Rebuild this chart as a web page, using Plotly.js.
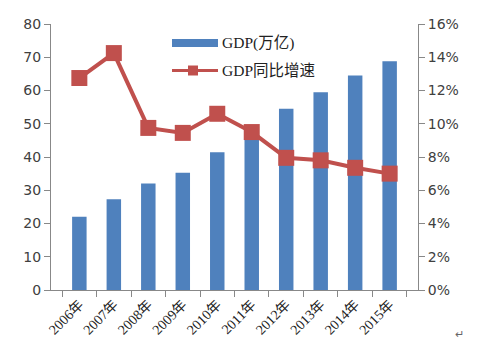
<!DOCTYPE html>
<html>
<head>
<meta charset="utf-8">
<script src="https://cdn.plot.ly/plotly-3.0.1.min.js"></script>
<style>html,body{margin:0;padding:0;background:#fff;}#chart{width:484px;height:363px;}</style>
</head>
<body>
<div id="chart"></div>
<script>
const years = ["2006年","2007年","2008年","2009年","2010年","2011年","2012年","2013年","2014年","2015年"];
const gdp = [22.0, 27.3, 32.0, 35.3, 41.4, 47.5, 54.5, 59.5, 64.5, 68.8];
const growth = [12.75, 14.25, 9.75, 9.45, 10.6, 9.5, 7.95, 7.8, 7.35, 7.0];
const leftTicks = [0,10,20,30,40,50,60,70,80];
const rightTicks = [0,2,4,6,8,10,12,14,16];
const rightLabels = rightTicks.map(v => v + "%");
const seriesNames = ["GDP(万亿)", "GDP同比增速"];

const barColor = "#4F81BD", lineColor = "#C0504D";
const traces = [
  {type:"bar", x: years, y: gdp, name:seriesNames[0], marker:{color:barColor}, yaxis:"y"},
  {type:"scatter", mode:"lines+markers", x: years, y: growth, name:seriesNames[1], yaxis:"y2",
   line:{color:lineColor, width:4}, marker:{symbol:"square", size:16, color:lineColor}}
];

// plot area in pixels: x 51..418, y 24..290
const L = 51, R = 418, T = 24, B = 290;
const px = v => (v - L) / (R - L);
const py = v => (B - v) / (B - T);

const legendFont = {family:"Liberation Serif, Noto Sans CJK SC", size:15.5, color:"#222"};
const tickFont = {family:"DejaVu Sans, Noto Sans", size:14, color:"#404040"};
const layout = {
  width:484, height:363,
  margin:{l:L, r:484-R, t:T, b:363-B, pad:0},
  paper_bgcolor:"#fff", plot_bgcolor:"#fff",
  showlegend:false,
  bargap:0.58,
  xaxis:{type:"category", showline:true, linecolor:"#888", linewidth:1, ticks:"outside", tickson:"boundaries",
         ticklen:6, tickcolor:"#888", tickangle:-45, showgrid:false,
         tickfont:{family:"Liberation Serif, Noto Sans CJK SC", size:14, color:"#222"}},
  yaxis:{range:[0,80], tickvals:leftTicks, showline:true, linecolor:"#888", ticks:"outside", ticklen:6, tickcolor:"#888",
         showgrid:false, zeroline:false, tickfont:tickFont},
  yaxis2:{range:[0,16], overlaying:"y", side:"right", tickvals:rightTicks, ticktext:rightLabels, showline:true,
          linecolor:"#888", ticks:"outside", ticklen:6, tickcolor:"#888", showgrid:false, zeroline:false, tickfont:tickFont},
  shapes:[
    {type:"rect", xref:"paper", yref:"paper", x0:px(172), x1:px(218), y0:py(47), y1:py(39), fillcolor:barColor, line:{width:0}},
    {type:"line", xref:"paper", yref:"paper", x0:px(172), x1:px(218), y0:py(70.5), y1:py(70.5), line:{color:lineColor, width:3}},
    {type:"rect", xref:"paper", yref:"paper", x0:px(188), x1:px(198), y0:py(75.5), y1:py(65.5), fillcolor:lineColor, line:{width:0}}
  ],
  annotations:[
    {xref:"paper", yref:"paper", x:px(220), y:py(43), xanchor:"left", yanchor:"middle", text:seriesNames[0], showarrow:false, font:legendFont},
    {xref:"paper", yref:"paper", x:px(220), y:py(70.5), xanchor:"left", yanchor:"middle", text:seriesNames[1], showarrow:false, font:legendFont},
    {xref:"paper", yref:"paper", x:1.13, y:-0.2, text:"↵", showarrow:false, font:{size:11, color:"#666"}}
  ]
};
Plotly.newPlot("chart", traces, layout, {displayModeBar:false, staticPlot:true});
</script>
</body>
</html>
